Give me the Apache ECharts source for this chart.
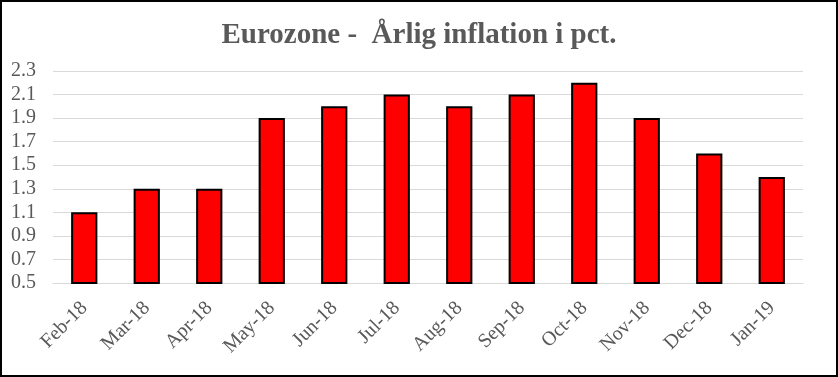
<!DOCTYPE html>
<html>
<head>
<meta charset="utf-8">
<script src="https://cdn.jsdelivr.net/npm/echarts@6/dist/echarts.min.js"></script>
<style>
  html, body { margin: 0; padding: 0; background: #fff; }
  #chart { width: 838px; height: 377px; box-sizing: border-box; border: 2px solid #000; }
</style>
</head>
<body>
<div id="chart"></div>
<script>
var months = ['Feb-18', 'Mar-18', 'Apr-18', 'May-18', 'Jun-18', 'Jul-18',
              'Aug-18', 'Sep-18', 'Oct-18', 'Nov-18', 'Dec-18', 'Jan-19'];
var inflation = [1.1, 1.3, 1.3, 1.9, 2.0, 2.1, 2.0, 2.1, 2.2, 1.9, 1.6, 1.4];

var chart = echarts.init(document.getElementById('chart'));
var option = {
    animation: false,
    title: {
        text: 'Eurozone -  Årlig inflation i pct.',
        left: 'center',
        top: 14,
        textStyle: {
            fontFamily: 'Liberation Serif',
            fontWeight: 'bold',
            fontSize: 29,
            color: '#595959'
        }
    },
    grid: { left: 51, right: 33, top: 69, bottom: 92 },
    xAxis: {
        type: 'category',
        data: months,
        axisLine: { lineStyle: { color: '#d9d9d9' } },
        axisTick: { length: 5, lineStyle: { color: '#d9d9d9' } },
        axisLabel: {
            rotate: 45,
            margin: 22,
            fontFamily: 'Liberation Serif',
            fontSize: 20,
            color: '#595959'
        }
    },
    yAxis: {
        type: 'value',
        min: 0.5,
        max: 2.3,
        interval: 0.2,
        axisLine: { show: false },
        axisTick: { show: false },
        splitLine: { lineStyle: { color: '#d9d9d9', width: 1 } },
        axisLabel: {
            margin: 17,
            fontFamily: 'Liberation Serif',
            fontSize: 20,
            color: '#595959',
            formatter: function (v) { return v.toFixed(1); }
        }
    },
    series: [{
        name: 'Inflation',
        type: 'bar',
        data: inflation,
        barWidth: '42%',
        itemStyle: { color: '#ff0000', borderColor: '#000', borderWidth: 2 }
    }]
};
chart.setOption(option);
</script>
</body>
</html>
